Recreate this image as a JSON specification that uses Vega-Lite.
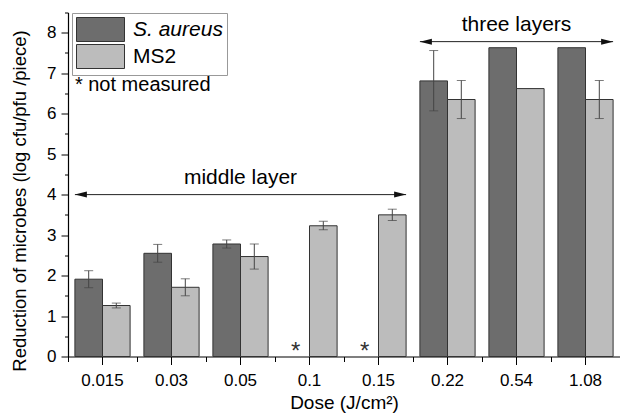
{
  "$schema": "https://vega.github.io/schema/vega-lite/v6.json",
  "autosize": "none",
  "width": 552,
  "height": 344,
  "padding": {"left": 68, "top": 12.5, "right": 0, "bottom": 62.5},
  "background": "white",
  "config": {
    "font": "Liberation Sans",
    "view": {"stroke": null},
    "axis": {"grid": false, "domainColor": "#000", "tickColor": "#000", "labelColor": "#000", "titleColor": "#000", "titleFontWeight": "normal"}
  },
  "datasets": {
    "reduction": [
      {"dose": "0.015", "microbe": "S. aureus", "value": 1.91, "lo": 1.70, "hi": 2.12},
      {"dose": "0.015", "microbe": "MS2", "value": 1.26, "lo": 1.20, "hi": 1.32},
      {"dose": "0.03", "microbe": "S. aureus", "value": 2.55, "lo": 2.33, "hi": 2.77},
      {"dose": "0.03", "microbe": "MS2", "value": 1.71, "lo": 1.50, "hi": 1.92},
      {"dose": "0.05", "microbe": "S. aureus", "value": 2.78, "lo": 2.68, "hi": 2.88},
      {"dose": "0.05", "microbe": "MS2", "value": 2.47, "lo": 2.16, "hi": 2.78},
      {"dose": "0.1", "microbe": "S. aureus", "value": null, "lo": null, "hi": null, "note": "*"},
      {"dose": "0.1", "microbe": "MS2", "value": 3.23, "lo": 3.13, "hi": 3.34},
      {"dose": "0.15", "microbe": "S. aureus", "value": null, "lo": null, "hi": null, "note": "*"},
      {"dose": "0.15", "microbe": "MS2", "value": 3.50, "lo": 3.36, "hi": 3.64},
      {"dose": "0.22", "microbe": "S. aureus", "value": 6.81, "lo": 6.07, "hi": 7.56},
      {"dose": "0.22", "microbe": "MS2", "value": 6.35, "lo": 5.88, "hi": 6.82},
      {"dose": "0.54", "microbe": "S. aureus", "value": 7.63, "lo": null, "hi": null},
      {"dose": "0.54", "microbe": "MS2", "value": 6.62, "lo": null, "hi": null},
      {"dose": "1.08", "microbe": "S. aureus", "value": 7.63, "lo": null, "hi": null},
      {"dose": "1.08", "microbe": "MS2", "value": 6.35, "lo": 5.88, "hi": 6.82}
    ],
    "spans": [
      {"label": "middle layer", "from": "0.015", "to": "0.15", "mid": "0.05", "y": 4.0, "ly": 4.41},
      {"label": "three layers", "from": "0.22", "to": "1.08", "mid": "0.54", "y": 7.78, "ly": 8.19}
    ],
    "footnote": [
      {"dose": "0.015", "y": 6.71, "text": "* not measured"}
    ]
  },
  "resolve": {"axis": {"x": "independent", "y": "independent"}},
  "layer": [
    {
      "data": {"name": "reduction"},
      "mark": {"type": "bar", "stroke": "#333", "strokeWidth": 1},
      "encoding": {
        "x": {
          "field": "dose", "type": "nominal",
          "scale": {"domain": ["0.015", "0.03", "0.05", "0.1", "0.15", "0.22", "0.54", "1.08"], "paddingInner": 0, "paddingOuter": 0},
          "axis": {"orient": "bottom", "title": "Dose (J/cm²)", "labelAngle": 0, "labelFontSize": 17, "labelPadding": 8, "tickSize": 8, "titleFontSize": 19, "titlePadding": 5, "domainWidth": 1.2}
        },
        "xOffset": {"field": "microbe", "type": "nominal", "scale": {"domain": ["S. aureus", "MS2"], "paddingInner": 0, "paddingOuter": 0.25}},
        "y": {
          "field": "value", "type": "quantitative",
          "scale": {"domain": [0, 8.5], "nice": false},
          "axis": {"orient": "left", "title": "Reduction of microbes (log cfu/pfu /piece)", "values": [0, 1, 2, 3, 4, 5, 6, 7, 8], "labelFontSize": 17, "labelPadding": 5, "tickSize": 7, "titleFontSize": 18.5, "titleX": -39, "titleY": 188, "titleAngle": 270, "titleAlign": "center", "titleBaseline": "bottom", "domainWidth": 1.2}
        },
        "color": {
          "field": "microbe", "type": "nominal",
          "scale": {"domain": ["S. aureus", "MS2"], "range": ["#6d6d6d", "#bcbcbc"]},
          "legend": {
            "title": null, "orient": "none", "legendX": 4, "legendY": 0.5,
            "symbolType": "M-1,-1H3V1H-1Z", "symbolSize": 576, "symbolStrokeColor": "#333", "symbolStrokeWidth": 1,
            "labelFontSize": 21, "labelColor": "#000", "labelOffset": 32, "rowPadding": -2,
            "padding": 4, "strokeColor": "#999", "fillColor": "white",
            "encode": {"labels": {"update": {"fontStyle": {"signal": "datum.label === 'S. aureus' ? 'italic' : 'normal'"}}}}
          }
        }
      }
    },
    {
      "data": {"name": "reduction"},
      "mark": {"type": "rule", "color": "#444", "strokeWidth": 1},
      "encoding": {
        "x": {"field": "dose", "type": "nominal", "axis": {"orient": "bottom", "tickBand": "extent", "labels": false, "title": null, "domain": false, "tickSize": 5}},
        "xOffset": {"field": "microbe", "type": "nominal"},
        "y": {"field": "lo", "type": "quantitative", "axis": {"orient": "left", "values": [0.5, 1.5, 2.5, 3.5, 4.5, 5.5, 6.5, 7.5, 8.5], "labels": false, "title": null, "domain": false, "tickSize": 3.5}},
        "y2": {"field": "hi"}
      }
    },
    {
      "data": {"name": "reduction"},
      "mark": {"type": "tick", "color": "#444", "thickness": 1, "size": 9},
      "encoding": {
        "x": {"field": "dose", "type": "nominal", "axis": null},
        "xOffset": {"field": "microbe", "type": "nominal"},
        "y": {"field": "lo", "type": "quantitative", "axis": null}
      }
    },
    {
      "data": {"name": "reduction"},
      "mark": {"type": "tick", "color": "#444", "thickness": 1, "size": 9},
      "encoding": {
        "x": {"field": "dose", "type": "nominal", "axis": null},
        "xOffset": {"field": "microbe", "type": "nominal"},
        "y": {"field": "hi", "type": "quantitative", "axis": null}
      }
    },
    {
      "data": {"name": "reduction"},
      "transform": [{"filter": "datum.note != null"}],
      "mark": {"type": "text", "fontSize": 24, "color": "#333", "baseline": "middle", "dy": 6},
      "encoding": {
        "x": {"field": "dose", "type": "nominal", "axis": null},
        "xOffset": {"field": "microbe", "type": "nominal"},
        "y": {"datum": 0.25, "type": "quantitative", "axis": null},
        "text": {"field": "note"}
      }
    },
    {
      "data": {"name": "spans"},
      "mark": {"type": "rule", "color": "#222", "strokeWidth": 1},
      "encoding": {
        "x": {"field": "from", "type": "nominal", "bandPosition": 0.1, "axis": null},
        "x2": {"field": "to", "bandPosition": 0.9},
        "y": {"field": "y", "type": "quantitative", "axis": null}
      }
    },
    {
      "data": {"name": "spans"},
      "mark": {"type": "point", "shape": "M0,0L2,-0.5L2,0.5Z", "size": 144, "filled": true, "color": "#111", "opacity": 1},
      "encoding": {
        "x": {"field": "from", "type": "nominal", "bandPosition": 0.1, "axis": null},
        "y": {"field": "y", "type": "quantitative", "axis": null}
      }
    },
    {
      "data": {"name": "spans"},
      "mark": {"type": "point", "shape": "M0,0L-2,-0.5L-2,0.5Z", "size": 144, "filled": true, "color": "#111", "opacity": 1},
      "encoding": {
        "x": {"field": "to", "type": "nominal", "bandPosition": 0.9, "axis": null},
        "y": {"field": "y", "type": "quantitative", "axis": null}
      }
    },
    {
      "data": {"name": "spans"},
      "mark": {"type": "text", "fontSize": 21, "color": "#000", "baseline": "middle"},
      "encoding": {
        "x": {"field": "mid", "type": "nominal", "axis": null},
        "y": {"field": "ly", "type": "quantitative", "axis": null},
        "text": {"field": "label"}
      }
    },
    {
      "data": {"name": "footnote"},
      "mark": {"type": "text", "fontSize": 20, "color": "#000", "baseline": "middle", "align": "left"},
      "encoding": {
        "x": {"field": "dose", "type": "nominal", "bandPosition": 0.1, "axis": null},
        "y": {"field": "y", "type": "quantitative", "axis": null},
        "text": {"field": "text"}
      }
    }
  ]
}
